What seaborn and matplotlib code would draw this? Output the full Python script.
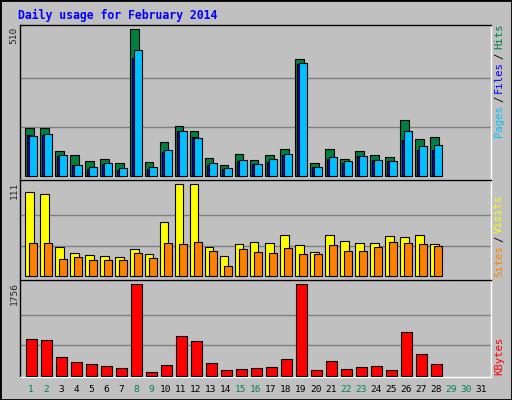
import numpy as np
import matplotlib
matplotlib.use("Agg")
import matplotlib.pyplot as plt
import seaborn as sns

days = list(range(1, 32))
hits_y = [385,385,454,466,484,478,490,88,487,427,379,394,475,496,463,481,466,448,178,490,448,478,454,466,472,361,418,412]
files_y = [405,405,467,496,507,492,511,175,507,457,394,412,496,507,484,493,487,466,193,502,478,490,469,481,484,421,451,451]
pages_y = [409,403,466,496,502,490,505,151,502,451,394,415,490,505,481,493,478,463,190,502,472,484,469,481,484,394,439,436]
hits = [510*(529-y)/441 for y in hits_y]
files = [510*(529-y)/441 for y in files_y]
pages = [510*(529-y)/441 for y in pages_y]
visits_y = [37,43,202,220,226,229,232,208,223,127,13,13,202,229,193,187,190,166,196,217,166,184,190,190,169,172,166,193]
sites_y = [190,190,238,232,241,241,241,220,235,190,193,187,214,259,208,217,220,205,223,223,196,214,214,202,187,190,193,199]
visits = [111*(289-y)/276 for y in visits_y]
sites = [111*(289-y)/276 for y in sites_y]
kb_y = [478,481,532,547,553,559,565,313,577,556,469,484,550,571,568,565,562,538,313,571,544,568,562,559,571,457,523,553]
kbytes = [1756*(587-y)/274 for y in kb_y]
maxes = [510, 111, 1756]
weekend = {1,2,8,9,15,16,22,23,29,30}

sns.set_style("white")
plt.rcParams['font.family'] = ['DejaVu Sans Mono', 'DejaVu Sans']
W, H = 512, 400
fig = plt.figure(figsize=(W/100, H/100), dpi=100, facecolor="#C0C0C0")

def axes_px(x0, y0, x1, y1):
    return fig.add_axes([x0/W, 1-y1/H, (x1-x0)/W, (y1-y0)/H], facecolor="#C0C0C0")

d = np.arange(1, 29)
panels = [(25, 180), (180, 280), (280, 377)]
# (bottom gap px, top gap px) for each panel
gaps = [(3.5, 4.5), (3.7, 4.3), (1.3, 4.3)]
axs = [axes_px(20, a, 491, b) for a, b in panels]
for ax, m, (a, b), (g0, g1) in zip(axs, maxes, panels, gaps):
    ax.set_xlim(0.27, 31.67)
    span = (b - a) - g0 - g1
    ax.set_ylim(-m*g0/span, m*(1 + g1/span))
    for g in (m/3, 2*m/3):
        ax.axhline(g, color="#808080", lw=1, zorder=0)
    ax.set_xticks([]); ax.set_yticks([])
    for s in ("left", "top"):
        ax.spines[s].set_color("black")
    for s in ("right", "bottom"):
        ax.spines[s].set_color("white")
    for s in ax.spines.values():
        s.set_linewidth(1)

ek = dict(edgecolor="black", linewidth=0.8, align="edge", zorder=3)
axs[0].bar(d-0.38, hits, width=0.55, color="#008040", **ek)
axs[0].bar(d-0.25, files, width=0.3, color="#0000FF", **ek)
axs[0].bar(d-0.11, pages, width=0.5, color="#00C0FF", **ek)
axs[1].bar(d-0.38, visits, width=0.55, color="#FFFF00", **ek)
axs[1].bar(d-0.11, sites, width=0.5, color="#FF8000", **ek)
axs[2].bar(d-0.31, kbytes, width=0.69, color="#FF0000", **ek)

fs = 6.8
for (a, b), m in zip(panels, maxes):
    fig.text(14/W, 1-(a+2)/H, str(m), rotation=90, va="top", ha="center", fontsize=fs)

fig.text(18/W, 1-15/H, "Daily usage for February 2014", color="#0000FF", fontsize=8.3,
         fontweight="bold", va="center", ha="left")

def right_label(parts, ybot, f=7.6):
    y = ybot
    for txt, col in parts:
        fig.text(499/W, 1-y/H, txt, rotation=90, color=col, fontsize=f, ha="center", va="bottom")
        y -= len(txt)*6.3 + 3
right_label([("Pages", "#00C0FF"), ("/", "black"), ("Files", "#0000FF"), ("/", "black"), ("Hits", "#008040")], 137)
right_label([("Sites", "#FF8000"), ("/", "black"), ("Visits", "#FFFF00")], 277)
right_label([("KBytes", "#FF0000")], 375)

for dd in days:
    x = 20 + (dd - 0.27) / (31.67 - 0.27) * 471
    fig.text(x/W, 1-389/H, str(dd), ha="center", va="center", fontsize=fs,
             color="#00805C" if dd in weekend else "black")

fig.patches.append(plt.Rectangle((0, 0), 1, 1, transform=fig.transFigure, fill=False,
                                 edgecolor="black", lw=2))
fig.savefig("out.png", dpi=100, facecolor=fig.get_facecolor())
